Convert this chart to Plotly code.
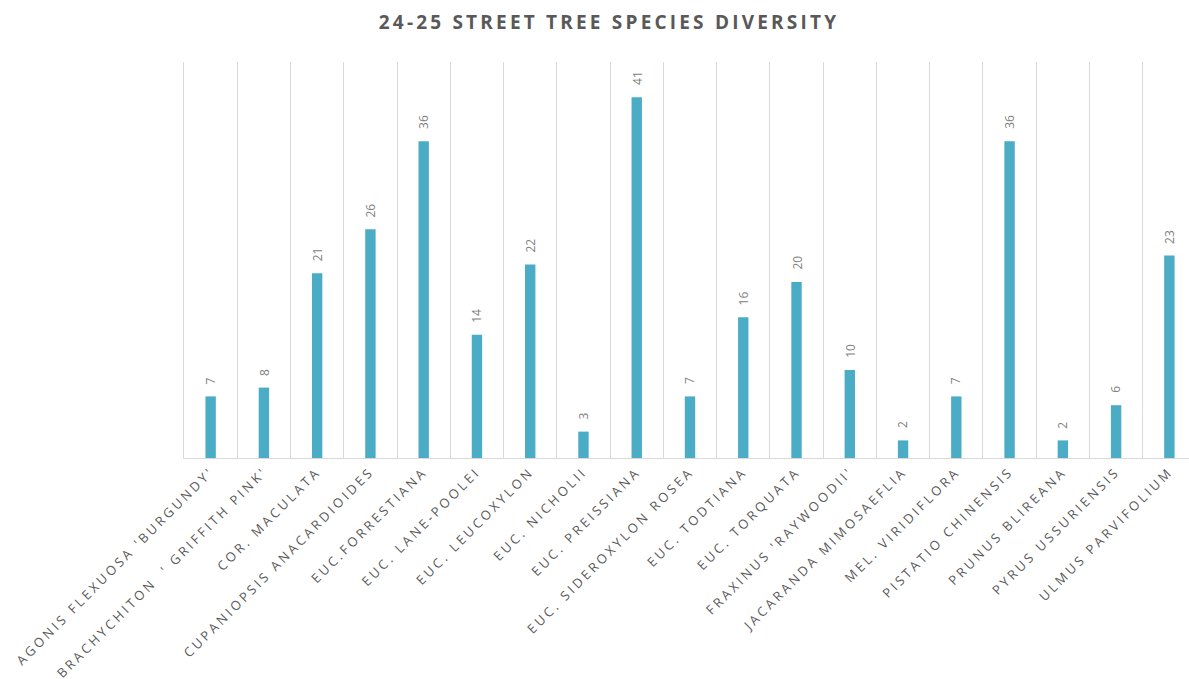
import plotly.graph_objects as go

categories = [
    "AGONIS FLEXUOSA 'BURGUNDY'",
    "BRACHYCHITON  ' GRIFFITH PINK'",
    "COR. MACULATA",
    "CUPANIOPSIS ANACARDIOIDES",
    "EUC.FORRESTIANA",
    "EUC. LANE-POOLEI",
    "EUC. LEUCOXYLON",
    "EUC. NICHOLII",
    "EUC. PREISSIANA",
    "EUC. SIDEROXYLON ROSEA",
    "EUC. TODTIANA",
    "EUC. TORQUATA",
    "FRAXINUS 'RAYWOODII'",
    "JACARANDA MIMOSAEFLIA",
    "MEL. VIRIDIFLORA",
    "PISTATIO CHINENSIS",
    "PRUNUS BLIREANA",
    "PYRUS USSURIENSIS",
    "ULMUS PARVIFOLIUM",
]
counts = [7, 8, 21, 26, 36, 14, 22, 3, 41, 7, 16, 20, 10, 2, 7, 36, 2, 6, 23]
title_text = "24-25 STREET TREE SPECIES DIVERSITY"


def spaced(s, px):
    return '<span style="letter-spacing:%spx">%s</span>' % (px, s)


fig = go.Figure(
    go.Bar(
        x=categories,
        y=counts,
        marker=dict(color="#4BACC6", line=dict(width=0)),
        width=0.195,
        hoverinfo="x+y",
    )
)

for c, v in zip(categories, counts):
    fig.add_annotation(
        x=c,
        y=v,
        xref="x",
        yref="y",
        text=str(v),
        textangle=-90,
        showarrow=False,
        xanchor="center",
        yanchor="bottom",
        yshift=10,
        font=dict(family="Open Sans", size=12, color="#7f7f7f"),
    )

n = len(categories)
fig.update_layout(
    width=1189,
    height=679,
    paper_bgcolor="white",
    plot_bgcolor="white",
    margin=dict(l=184, r=0, t=62, b=221),
    showlegend=False,
    title=dict(
        text="<b>" + spaced(title_text, 3.2) + "</b>",
        xref="container",
        x=609 / 1189,
        xanchor="center",
        yref="container",
        y=1 - 22 / 679,
        yanchor="middle",
        font=dict(family="Open Sans", size=19, color="#595959"),
    ),
    xaxis=dict(
        type="category",
        tickson="boundaries",
        showgrid=True,
        gridcolor="#d9d9d9",
        gridwidth=1,
        showline=True,
        linecolor="#d9d9d9",
        linewidth=1,
        ticks="",
        tickangle=-45,
        tickmode="array",
        tickvals=categories,
        ticktext=[spaced(c, 3) for c in categories],
        tickfont=dict(family="Open Sans", size=13, color="#595959"),
        range=[-0.5, n - 0.5 - 7 / 53.26],
        automargin=False,
    ),
    yaxis=dict(
        range=[0, 45],
        showgrid=False,
        showticklabels=False,
        zeroline=False,
        showline=True,
        linecolor="#d9d9d9",
        linewidth=1,
        ticks="",
        automargin=False,
    ),
)

fig.write_html(
    "out.html",
    config={"displayModeBar": False},
    post_script="document.body.style.margin='0';document.body.style.overflow='hidden';",
)
